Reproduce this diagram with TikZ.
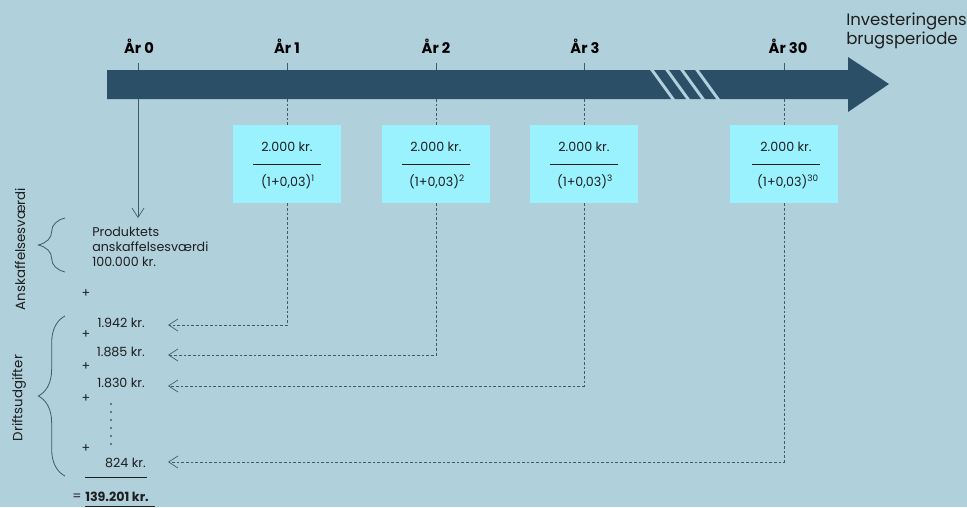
\documentclass[tikz,border=0pt]{standalone}
\usepackage{fontspec}
\setmainfont{Poppins}
\usetikzlibrary{arrows.meta,decorations.pathreplacing}
\definecolor{bgc}{HTML}{B0D0DC}
\definecolor{barc}{HTML}{2B4F66}
\definecolor{cellc}{HTML}{9AF2FE}
\definecolor{linec}{HTML}{3E5B6D}
\definecolor{txtc}{HTML}{1E1E1E}

\begin{document}
\begin{tikzpicture}[x=0.75pt,y=-0.75pt,
	yr/.style={font=\fontsize{11}{12}\selectfont\bfseries, text=black, inner sep=0pt},
	txt/.style={font=\fontsize{9.5}{11.25}\selectfont, text=txtc, inner sep=0pt},
	cell/.style={fill=cellc, minimum width=81pt, minimum height=58.5pt, inner sep=0pt},
	dline/.style={draw=linec, dash pattern=on 2pt off 1.5pt, line width=0.5pt},
	tip/.style={-{Straight Barb[length=7pt,width=9pt]}},
	curly/.style={draw=linec, line width=0.6pt, decorate, decoration={brace, amplitude=20pt}}]
		\useasboundingbox (0,0) rectangle (967,507);
		\fill[bgc] (0,0) rectangle (967,507);

		% time axis
		\fill[barc] (107,70) -- (848,70) -- (848,57) -- (889,84) -- (848,112) -- (848,99) -- (107,99) -- cycle;
		\draw[bgc, line width=2.2pt] (649.1,66) -- (675.9,103);
		\draw[bgc, line width=2.2pt] (664.1,66) -- (690.9,103);
		\draw[bgc, line width=2.2pt] (679.1,66) -- (705.9,103);
		\draw[bgc, line width=2.2pt] (694.1,66) -- (720.9,103);

		\draw (139,46) node[yr] (y0) {År 0};
		\draw (287,46) node[yr] (y1) {År 1};
		\draw (436,46) node[yr] (y2) {År 2};
		\draw (585,46) node[yr] (y3) {År 3};
		\draw (788,46) node[yr] (y30) {År 30};
		\draw[linec, line width=0.5pt] (138,63) -- (138,70);
		\draw[linec, line width=0.5pt] (287,63) -- (287,70);
		\draw[linec, line width=0.5pt] (436,63) -- (436,70);
		\draw[linec, line width=0.5pt] (584,63) -- (584,70);
		\draw[linec, line width=0.5pt] (784,63) -- (784,70);

		\node[anchor=north west, align=left, font=\fontsize{12.4}{14.25}\selectfont, text=txtc, inner sep=0pt] (span) at (846,13) {Investeringens\\brugsperiode};

		% discounted costs
		\node[cell] (c1) at (287,164) {};
		\node[txt] (n1) at (287,147) {2.000 kr.};
		\draw[txtc, line width=0.5pt] (253,164) -- (321,164);
		\node[txt] (d1) at (288,182) {(1+0,03)\textsuperscript{1}};

		\node[cell] (c2) at (436,164) {};
		\node[txt] (n2) at (436,147) {2.000 kr.};
		\draw[txtc, line width=0.5pt] (402,164) -- (470,164);
		\node[txt] (d2) at (437,182) {(1+0,03)\textsuperscript{2}};

		\node[cell] (c3) at (584,164) {};
		\node[txt] (n3) at (584,147) {2.000 kr.};
		\draw[txtc, line width=0.5pt] (550,164) -- (618,164);
		\node[txt] (d3) at (585,182) {(1+0,03)\textsuperscript{3}};

		\node[cell] (c30) at (784,164) {};
		\node[txt] (n30) at (786,147) {2.000 kr.};
		\draw[txtc, line width=0.5pt] (752,164) -- (820,164);
		\node[txt] (d30) at (788,182) {(1+0,03)\textsuperscript{30}};

		% sum column
		\node[txt, anchor=west, align=left] (prod) at (92,247) {Produktets\\anskaffelsesværdi\\100.000 kr.};
		\node[txt] (p0) at (86,294) {+};
		\node[txt, anchor=east] (v1) at (145,323) {1.942 kr.};
		\node[txt] (p1) at (86,335) {+};
		\node[txt, anchor=east] (v2) at (145,352) {1.885 kr.};
		\node[txt] (p2) at (86,367) {+};
		\node[txt, anchor=east] (v3) at (145,383) {1.830 kr.};
		\node[txt] (p3) at (86,399) {+};
		\draw[txtc, line width=1.2pt, line cap=round, dash pattern=on 0pt off 6pt] (111,404) -- (111,446);
		\node[txt] (p4) at (86,449) {+};
		\node[txt, anchor=east] (v4) at (146,463) {824 kr.};
		\draw[txtc, line width=0.5pt] (85,477) -- (147,477);
		\node[txt] (eq) at (77,497) {=};
		\node[txt, anchor=west, font=\fontsize{9.5}{11.25}\selectfont\bfseries] (total) at (85,497) {139.201 kr.};
		\draw[txtc, line width=0.5pt] (85,506) -- (155,506);

		\draw[curly] (65,272) -- (65,218);
		\draw[curly] (65,476) -- (65,316);
		\node[txt, rotate=90, font=\fontsize{10}{12}\selectfont] (lab1) at (20,249) {Anskaffelsesværdi};
		\node[txt, rotate=90, font=\fontsize{10}{12}\selectfont] (lab2) at (19,398) {Driftsudgifter};

		% connectors
		\coordinate (t0) at (138,99);
		\coordinate (t1) at (287,99);
		\coordinate (t2) at (436,99);
		\coordinate (t3) at (584,99);
		\coordinate (t30) at (784,99);
		\coordinate (a0) at (138,218);
		\coordinate (e1) at (168,325);
		\coordinate (e2) at (168,355);
		\coordinate (e3) at (168,386);
		\coordinate (e30) at (168,462);

		\draw[linec, line width=0.5pt, tip] (t0) -- (a0);
		\draw[dline] (t1) -- (c1.north);
		\draw[dline] (t2) -- (c2.north);
		\draw[dline] (t3) -- (c3.north);
		\draw[dline] (t30) -- (c30.north);
		\draw[dline, tip] (c1.south) |- (e1);
		\draw[dline, tip] (c2.south) |- (e2);
		\draw[dline, tip] (c3.south) |- (e3);
		\draw[dline, tip] (c30.south) |- (e30);
	\end{tikzpicture}
\end{document}
